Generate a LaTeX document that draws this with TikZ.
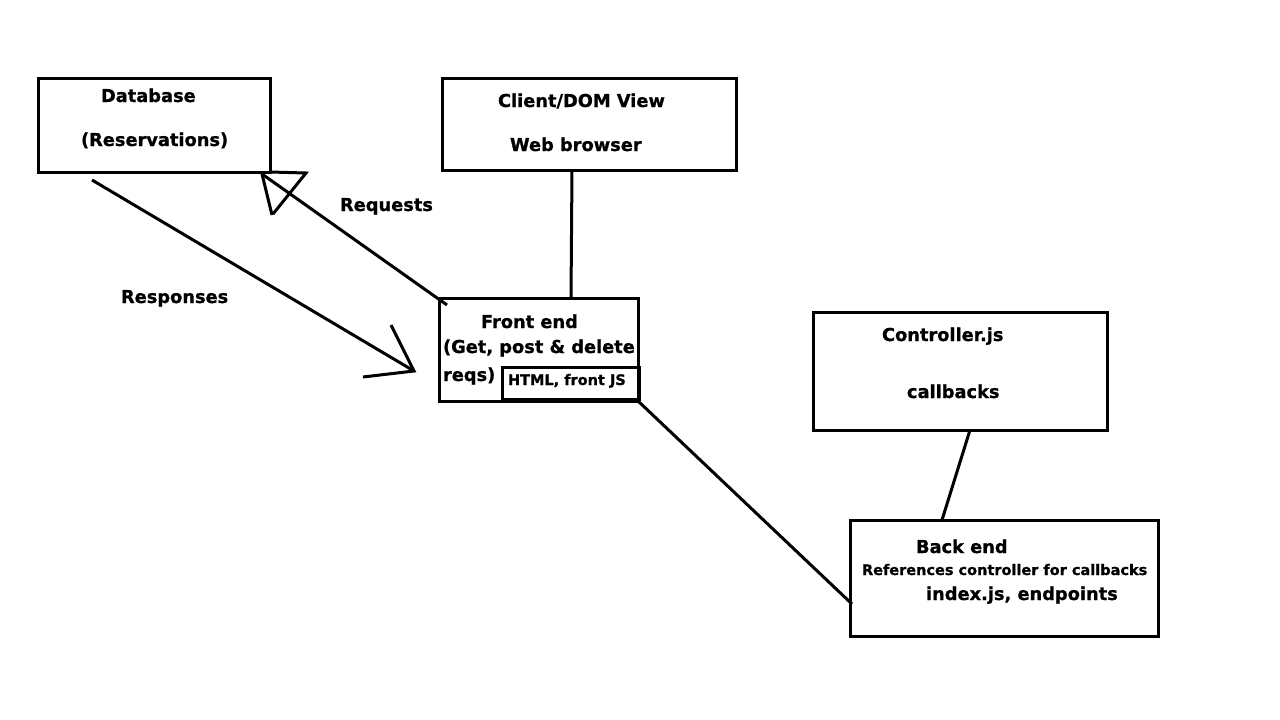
\documentclass[tikz,border=0pt]{standalone}
\usepackage{fontspec}
\setmainfont{DejaVu Sans}[FakeBold=0.9]
\usetikzlibrary{calc}
\tikzset{
  box/.style={draw=black, line width=3pt, rectangle, inner sep=0pt, outer sep=0pt, anchor=north west},
  lbl/.style={inner sep=0pt, outer sep=0pt, anchor=base west, font=\fontsize{17.8}{20}\selectfont\bfseries},
  small/.style={inner sep=0pt, outer sep=0pt, anchor=base west, font=\fontsize{14.5}{17}\selectfont\bfseries},
  conn/.style={draw=black, line width=3pt},
}
\begin{document}
\begin{tikzpicture}[x=1pt,y=-1pt]
\useasboundingbox[fill=white] (0,0) rectangle (1280,720);
% boxes
\node[box, minimum width=232pt, minimum height=94pt] (db) at (38,78) {};
\node[box, minimum width=294pt, minimum height=92pt] (cl) at (442,78) {};
\node[box, minimum width=199pt, minimum height=103pt] (fe) at (439,298) {};
\node[box, minimum width=137pt, minimum height=32pt] (fi) at (502,367) {};
\node[box, minimum width=294pt, minimum height=118pt] (co) at (813,312) {};
\node[box, minimum width=308pt, minimum height=116pt] (be) at (850,520) {};
% texts
\node[lbl] (t1) at (101,102) {Database};
\node[lbl] (t2) at (81,146) {(Reservations)};
\node[lbl] (t3) at (498,107) {Client/DOM View};
\node[lbl] (t4) at (510,151) {Web browser};
\node[lbl] (t5) at (481,328) {Front end};
\node[lbl] (t6) at (443,353) {(Get, post \& delete};
\node[lbl] (t7) at (443,381) {reqs)};
\node[small] (t8) at (508,385) {HTML, front JS};
\node[lbl] (t9) at (882,341) {Controller.js};
\node[lbl] (t10) at (907,398) {callbacks};
\node[lbl] (t11) at (916,553) {Back end};
\node[small] (t12) at (862,575) {References controller for callbacks};
\node[lbl] (t13) at (926,600) {index.js, endpoints};
\node[lbl] (t14) at (340,211) {Requests};
\node[lbl] (t15) at (121,303) {Responses};
% connector ends
\coordinate (rqs) at ($(fe.north west)+(8,7)$);
\coordinate (rqe) at ($(db.south east)+(-8,2)$);
\coordinate (rqa) at (272,215);
\coordinate (rqb) at (306,173);
\coordinate (rqc) at (273,214);
\coordinate (rss) at (92,180);
\coordinate (rse) at (414,371);
\coordinate (rsa) at (391,325);
\coordinate (rsb) at (363,377);
% connectors
\draw[conn] ($(cl.south west)+(130,0)$) -- ($(fe.north west)+(132,0)$);
\draw[conn] ($(co.south west)+(157,0)$) -- ($(be.north west)+(92,0)$);
\draw[conn] (fe.south east) -- ($(be.south west)+(2,-32)$);
\draw[conn] (rqs) -- (rqe);
\draw[conn] (rqe) -- (rqa);
\draw[conn] (db.south east) -- (rqb) -- (rqc);
\draw[conn] (rss) -- (rse);
\draw[conn] (rsa) -- (rse) -- (rsb);
\end{tikzpicture}
\end{document}
